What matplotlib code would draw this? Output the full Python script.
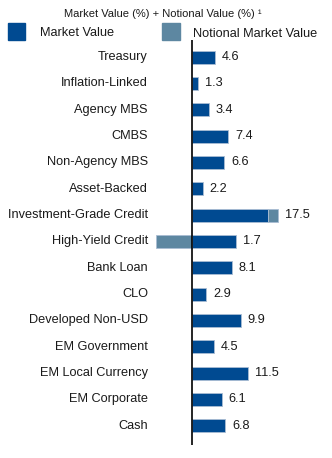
import matplotlib.pyplot as plt
from matplotlib.patches import Rectangle

plt.rcParams['font.family'] = ['Liberation Sans', 'DejaVu Sans']

categories = ['Treasury', 'Inflation-Linked', 'Agency MBS', 'CMBS', 'Non-Agency MBS',
              'Asset-Backed', 'Investment-Grade Credit', 'High-Yield Credit', 'Bank Loan',
              'CLO', 'Developed Non-USD', 'EM Government', 'EM Local Currency',
              'EM Corporate', 'Cash']
market_value = [4.6, 1.3, 3.4, 7.4, 6.6, 2.2, 15.6, 9.0, 8.1, 2.9, 9.9, 4.5, 11.5, 6.1, 6.8]
notional_value = [0, 0, 0, 0, 0, 0, 1.9, -7.3, 0, 0, 0, 0, 0, 0, 0]
labels = ['4.6', '1.3', '3.4', '7.4', '6.6', '2.2', '17.5', '1.7', '8.1', '2.9',
          '9.9', '4.5', '11.5', '6.1', '6.8']

MV_COLOR = '#004a91'
NV_COLOR = '#5d87a1'
EDGE = '#a9bdd3'
TXT = '#1a1a1a'
FS = 9.2

W, H = 332, 458
fig = plt.figure(figsize=(W / 100, H / 100), dpi=100)
ax = fig.add_axes([150 / W, 1 - 445 / H, 182 / W, 405 / H])

px = 4.9  # pixels per percent
ax.set_xlim(-42 / px, 140 / px)
ax.set_ylim(len(categories) - 1 + 0.73, -0.65)

y = list(range(len(categories)))
ax.barh(y, market_value, height=0.5, color=MV_COLOR, edgecolor=EDGE, linewidth=0.6)
for i, n in enumerate(notional_value):
    if n > 0:
        ax.barh(i, n, left=market_value[i], height=0.5, color=NV_COLOR,
                edgecolor=EDGE, linewidth=0.6)
    elif n < 0:
        ax.barh(i, n, height=0.5, color=NV_COLOR, edgecolor=EDGE, linewidth=0.6)

for i, lab in enumerate(labels):
    end = market_value[i] + max(notional_value[i], 0)
    ax.text(end + 1.4, i, lab, va='center', ha='left', fontsize=FS, color=TXT)
    ax.text(-0.011, i, categories[i], transform=ax.get_yaxis_transform(),
            va='center', ha='right', fontsize=FS, color=TXT)

ax.axvline(0, color='black', lw=1.2)
for s in ax.spines.values():
    s.set_visible(False)
ax.set_xticks([])
ax.set_yticks([])

# title and legend
fig.text(163 / W, 1 - 14 / H, 'Market Value (%) + Notional Value (%) \u00b9',
         ha='center', va='center', fontsize=8, color=TXT)
fig.patches.append(Rectangle((8 / W, 1 - 40 / H), 17 / W, 17 / H,
                             transform=fig.transFigure, color=MV_COLOR))
fig.text(40 / W, 1 - 33 / H, 'Market Value', ha='left', va='center',
         fontsize=FS, color=TXT)
fig.patches.append(Rectangle((162 / W, 1 - 40 / H), 18 / W, 17 / H,
                             transform=fig.transFigure, color=NV_COLOR))
fig.text(193 / W, 1 - 34 / H, 'Notional Market Value', ha='left', va='center',
         fontsize=FS, color=TXT)

fig.savefig('out.png', dpi=100)
